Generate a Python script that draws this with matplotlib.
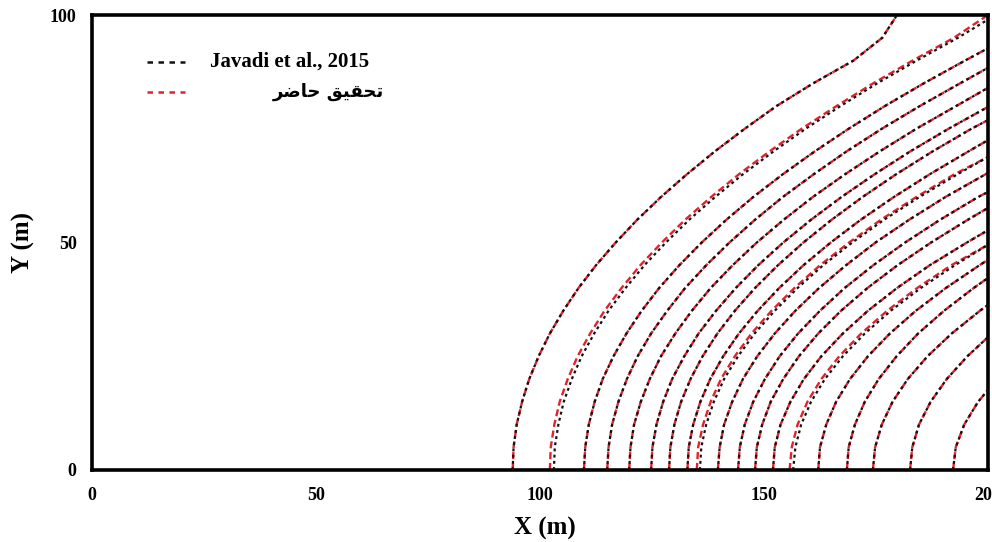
import matplotlib
matplotlib.use("Agg")
import matplotlib.pyplot as plt

# contour lines read at fixed heights (m); each row = one iso-line, x (m)
y_levels = [0, 5, 10, 15, 20, 25, 30, 35, 40, 45, 50, 55, 60, 65, 70, 75, 80, 85, 90, 95]

javadi_x = [
    [93.9, 94.1, 94.8, 96.0, 97.6, 99.7, 102.2, 105.2, 108.6, 112.5, 116.9,
     121.7, 127.0, 132.8, 139.0, 145.7, 152.8, 161.0, 170.0, 176.4],
    [103.1, 103.3, 104.1, 105.3, 107.1, 109.3, 112.1, 115.3, 119.1, 123.3, 128.1,
     133.3, 139.1, 145.3, 152.1, 159.3, 167.1, 175.3, 184.1, 193.3],
    [109.8, 110.1, 110.9, 112.2, 114.0, 116.4, 119.3, 122.7, 126.6, 131.1, 136.1,
     141.6, 147.6, 154.2, 161.3, 168.9, 177.0, 185.7, 194.9],
    [115.0, 115.3, 116.1, 117.5, 119.4, 121.8, 124.8, 128.4, 132.4, 137.1, 142.3,
     148.0, 154.2, 161.1, 168.4, 176.3, 184.8, 193.8],
    [119.9, 120.2, 121.0, 122.5, 124.5, 127.0, 130.2, 133.9, 138.1, 143.0, 148.4,
     154.4, 160.9, 168.1, 175.8, 184.0, 192.9],
    [124.8, 125.1, 126.0, 127.5, 129.5, 132.2, 135.4, 139.3, 143.7, 148.7, 154.3,
     160.5, 167.3, 174.7, 182.6, 191.2],
    [128.8, 129.1, 130.0, 131.5, 133.6, 136.3, 139.6, 143.5, 148.0, 153.1, 158.8,
     165.1, 172.0, 179.5, 187.6, 196.3],
    [132.9, 133.2, 134.2, 135.8, 138.0, 140.9, 144.4, 148.6, 153.4, 158.8, 164.9,
     171.6, 179.0, 187.0, 195.6],
    [135.7, 136.0, 137.1, 138.8, 141.1, 144.2, 147.9, 152.4, 157.5, 163.2, 169.7,
     176.8, 184.7, 193.2],
    [139.7, 140.1, 141.1, 142.9, 145.3, 148.5, 152.4, 157.0, 162.3, 168.3, 174.9,
     182.4, 190.5],
    [144.2, 144.6, 145.7, 147.6, 150.2, 153.5, 157.6, 162.5, 168.0, 174.4, 181.5,
     189.3, 197.8],
    [148.0, 148.4, 149.6, 151.5, 154.3, 157.8, 162.1, 167.2, 173.1, 179.8, 187.3, 195.5],
    [152.0, 152.4, 153.7, 155.9, 158.9, 162.8, 167.6, 173.2, 179.7, 187.0, 195.3],
    [156.5, 157.0, 158.3, 160.5, 163.6, 167.6, 172.5, 178.3, 185.0, 192.6],
    [162.1, 162.5, 163.9, 166.1, 169.2, 173.2, 178.1, 183.9, 190.6, 198.1],
    [168.5, 168.9, 170.3, 172.5, 175.6, 179.6, 184.4, 190.2, 196.8],
    [174.3, 174.8, 176.3, 178.7, 182.1, 186.5, 191.9, 198.2],
    [182.6, 183.1, 184.6, 187.2, 190.8, 195.4],
    [192.2, 192.8, 194.7, 197.8],
]
# where each iso-line leaves the domain (top edge for the first, right edge for the rest)
javadi_end_x = [179.7] + [200.0] * 18
javadi_end_y = [100.0, 99.0, 92.7, 88.4, 84.0, 79.8, 76.9, 72.5, 68.8, 65.3,
                61.1, 57.6, 52.7, 49.5, 46.2, 42.2, 36.3, 29.2, 17.6]

# present study: same as Javadi except where the two visibly separate
present_x = [list(r) for r in javadi_x]
present_x[1] = [102.2, 102.4, 103.2, 104.4, 106.2, 108.4, 111.2, 114.4, 118.2, 122.4,
                127.2, 132.4, 138.2, 144.4, 151.2, 158.4, 166.2, 174.4, 183.2, 192.4]
present_x[8] = [135.0, 135.3, 136.4, 138.1, 140.4, 143.5, 147.2, 151.7, 156.8, 162.5,
                169.0, 176.1, 184.0, 192.5]
present_x[13] = [155.7, 156.2, 157.5, 159.7, 162.8, 166.8, 171.7, 177.5, 184.2, 191.8]
present_end_x = list(javadi_end_x)
present_end_y = list(javadi_end_y)
present_end_y[1] = 100.0

# "تحقیق حاضر" written in shaped presentation forms, visual order
legend_labels = ["Javadi et al., 2015",
                 "\uFEAE\uFEBF\uFE8E\uFEA3 \uFED6\uFEF4\uFED8\uFEA4\uFE97"]

BLACK = "#111111"
RED = "#e3202b"
SERIF = "Liberation Serif"

fig = plt.figure(figsize=(9.92, 5.42), dpi=100)
ax = fig.add_axes([92 / 992, 1 - 470 / 542, 896 / 992, 455 / 542])


def draw(xs_all, ex, ey, **kw):
    for xs, x1, y1 in zip(xs_all, ex, ey):
        ys = y_levels[:len(xs)]
        ax.plot(list(xs) + [x1], list(ys) + [y1], **kw)


draw(present_x, present_end_x, present_end_y, color=RED, lw=1.7,
     ls=(0, (3, 1.6)), zorder=2)
draw(javadi_x, javadi_end_x, javadi_end_y, color=BLACK, lw=1.6,
     ls=(0, (1.3, 1.5)), zorder=3)

ax.set_xlim(0, 200)
ax.set_ylim(0, 100)
ax.set_xticks([0, 50, 100, 150, 200])
ax.set_yticks([0, 50, 100])
ax.tick_params(length=0)
ax.tick_params(axis="x", pad=12)
ax.tick_params(axis="y", pad=11)
for lab in ax.get_xticklabels() + ax.get_yticklabels():
    lab.set_fontfamily(SERIF)
    lab.set_fontweight("bold")
    lab.set_fontsize(13)
for sp in ax.spines.values():
    sp.set_linewidth(2.6)
    sp.set_color("black")

ax.set_xlabel("X (m)", fontsize=18, fontweight="bold", family=SERIF)
ax.xaxis.set_label_coords(0.505, -0.102)
ax.set_ylabel("Y (m)", fontsize=18, fontweight="bold", family=SERIF)
ax.yaxis.set_label_coords(-0.064, 0.5)

# legend drawn by hand (the two entries are not aligned alike)
tr = ax.transAxes
ax.plot([0.0614, 0.1038], [0.8967, 0.8967], transform=tr, color=BLACK,
        lw=1.8, ls=(0, (2.2, 2.2)), clip_on=False)
ax.plot([0.0614, 0.1038], [0.8308, 0.8308], transform=tr, color=RED,
        lw=1.8, ls=(0, (2.2, 2.2)), clip_on=False)
ax.text(0.1317, 0.8967, legend_labels[0], transform=tr, fontsize=15,
        fontweight="bold", family=SERIF, va="center", ha="left")
ax.text(0.202, 0.8308, legend_labels[1], transform=tr, fontsize=13,
        fontweight="bold", family=["DejaVu Sans"], va="center", ha="left")

fig.savefig("out.png", dpi=100)
